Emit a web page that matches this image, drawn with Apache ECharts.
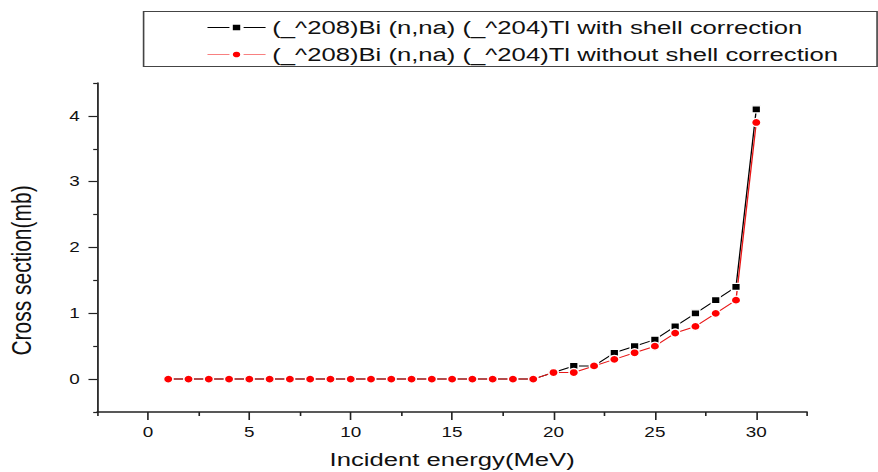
<!DOCTYPE html>
<html>
<head>
<meta charset="utf-8">
<script src="https://cdn.jsdelivr.net/npm/echarts@6/dist/echarts.min.js"></script>
<style>
  html, body { margin: 0; padding: 0; background: #fff; overflow: hidden; }
  /* the original picture is stretched sideways, so draw narrower and stretch it */
  #chart { width: 650px; height: 472px; transform: scaleX(1.3508); transform-origin: 0 0; }
</style>
</head>
<body>
<div id="chart"></div>
<script>
// incident energy (MeV)
const energy = [1, 2, 3, 4, 5, 6, 7, 8, 9, 10, 11, 12, 13, 14, 15, 16, 17, 18, 19, 20, 21, 22, 23, 24, 25, 26, 27, 28, 29, 30];
// cross section (mb)
const withShell = [0, 0, 0, 0, 0, 0, 0, 0, 0, 0, 0, 0, 0, 0, 0, 0, 0, 0, 0, 0.1, 0.2, 0.2, 0.4, 0.5, 0.6, 0.8, 1.0, 1.2, 1.4, 4.1];
const withoutShell = [0, 0, 0, 0, 0, 0, 0, 0, 0, 0, 0, 0, 0, 0, 0, 0, 0, 0, 0, 0.1, 0.1, 0.2, 0.3, 0.4, 0.5, 0.7, 0.8, 1.0, 1.2, 3.9];
const xMajor = [0, 5, 10, 15, 20, 25, 30];
const xMinor = [-2.5, 2.5, 7.5, 12.5, 17.5, 22.5, 27.5, 32.5];
const yMajor = [0, 1, 2, 3, 4];
const yMinor = [-0.5, 0.5, 1.5, 2.5, 3.5, 4.5];

const nameA = '(_^208)Bi (n,na) (_^204)Tl with shell correction';
const nameB = '(_^208)Bi (n,na) (_^204)Tl without shell correction';

const font = 'Liberation Sans, Arial, sans-serif';
const axisColor = '#222';

const myChart = echarts.init(document.getElementById('chart'), null, { renderer: 'svg' });

const pairs = (ys) => energy.map((x, i) => [x, ys[i]]);

const option = {
  animation: false,
  grid: { left: 72, right: 52.6, top: 83, bottom: 60, outerBoundsMode: 'none', containLabel: false },
  graphic: [
    {
      type: 'rect',
      shape: { x: 106.3, y: 11.5, width: 543, height: 55 },
      style: { fill: 'none', stroke: '#444', lineWidth: 1.2 },
    },
  ],
  legend: {
    orient: 'vertical',
    left: 148,
    top: 13,
    itemWidth: 43,
    itemHeight: 10,
    itemGap: 8,
    textStyle: { fontFamily: font, fontSize: 19, color: '#111' },
    data: [
      {
        name: nameA,
        itemStyle: { color: '#000', borderColor: '#fff', borderWidth: 2.5 },
        lineStyle: { color: '#000', width: 1 },
      },
      {
        name: nameB,
        itemStyle: { color: '#ff0000', borderColor: '#fff', borderWidth: 2.5 },
        lineStyle: { color: '#f88080', width: 1.2 },
      },
    ],
  },
  xAxis: [
    {
      type: 'value',
      min: -2.5,
      max: 32.5,
      splitLine: { show: false },
      axisLine: { onZero: false, lineStyle: { color: axisColor, width: 1.5 } },
      axisTick: { customValues: xMajor, length: 8, lineStyle: { color: axisColor, width: 1.2 } },
      axisLabel: { customValues: xMajor, margin: 13, fontFamily: font, fontSize: 14, color: '#111' },
      name: 'Incident energy(MeV)',
      nameLocation: 'middle',
      nameGap: 38,
      nameTextStyle: { fontFamily: font, fontSize: 19, color: '#111' },
    },
    {
      type: 'value',
      position: 'bottom',
      min: -2.5,
      max: 32.5,
      splitLine: { show: false },
      axisLine: { show: false, onZero: false },
      axisTick: { customValues: xMinor, length: 4, lineStyle: { color: axisColor, width: 1.2 } },
      axisLabel: { show: false },
    },
  ],
  yAxis: [
    {
      type: 'value',
      min: -0.5,
      max: 4.5,
      splitLine: { show: false },
      axisLine: { show: true, onZero: false, lineStyle: { color: axisColor, width: 1.3 } },
      axisTick: { show: true, customValues: yMajor, length: 6.5, lineStyle: { color: axisColor, width: 1.2 } },
      axisLabel: { customValues: yMajor, margin: 13, fontFamily: font, fontSize: 14, color: '#111' },
      name: 'Cross section(mb)',
      nameLocation: 'middle',
      nameGap: 46,
      nameTextStyle: { fontFamily: font, fontSize: 21, color: '#111', padding: [0, 46, 0, 0] },
    },
    {
      type: 'value',
      position: 'left',
      min: -0.5,
      max: 4.5,
      splitLine: { show: false },
      axisLine: { show: false, onZero: false },
      axisTick: { show: true, customValues: yMinor, length: 3, lineStyle: { color: axisColor, width: 1.2 } },
      axisLabel: { show: false },
    },
  ],
  series: [
    {
      name: nameA,
      type: 'line',
      data: pairs(withShell),
      symbol: 'rect',
      symbolSize: [6.5, 7],
      itemStyle: { color: '#000', borderColor: '#fff', borderWidth: 1.2 },
      lineStyle: { color: '#000', width: 1 },
    },
    {
      name: nameB,
      type: 'line',
      data: pairs(withoutShell),
      symbol: 'circle',
      symbolSize: [7, 8],
      itemStyle: { color: '#ff0000', borderColor: '#fff', borderWidth: 1.2 },
      lineStyle: { color: '#e81818', width: 1 },
    },
  ],
};

myChart.setOption(option);
</script>
</body>
</html>
